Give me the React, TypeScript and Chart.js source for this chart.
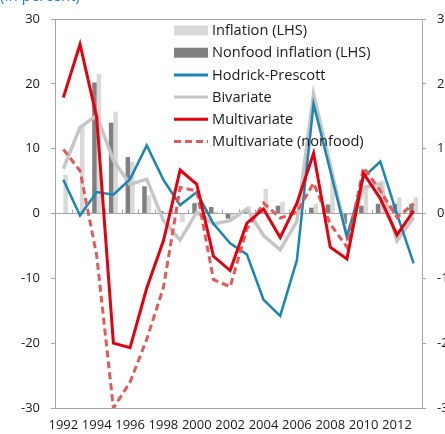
import React, { useEffect, useRef } from "react";
import { Chart, registerables } from "chart.js";
Chart.register(...registerables);

const years = [
  "1992", "1993", "1994", "1995", "1996", "1997", "1998", "1999", "2000", "2001", "2002",
  "2003", "2004", "2005", "2006", "2007", "2008", "2009", "2010", "2011", "2012", "2013",
];

const inflation = [6.0, 13.5, 21.5, 15.7, 8.0, 2.8, 0.2, -1.3, 0.5, 0.3, -1.0, 1.1, 3.8, 1.8, 1.4, 1.5, 5.6, -0.3, 4.3, 5.1, 2.5, 2.5];
const nonfoodInflation = [null, null, 20.2, 14.0, 8.7, 4.2, 0.4, 0.1, 1.6, 1.0, -0.8, 0.3, 0.2, 1.2, 0.3, 0.9, 1.4, -1.6, 1.2, 1.5, 1.5, 1.5];
const hodrickPrescott = [5.2, -0.3, 3.3, 2.9, 5.3, 10.5, 5.2, 1.3, 3.3, -1.6, -4.6, -6.3, -13.3, -15.8, -7.2, 16.9, 6.6, -3.6, 5.6, 8.0, -0.1, -7.7];
const bivariate = [6.9, 13.3, 15.1, 8.2, 4.5, 5.3, -1.1, -4.1, 0.2, -1.6, -1.1, 0.7, -3.4, -5.6, -1.2, 18.4, 7.5, -3.6, 4.0, 4.6, -4.2, -0.6];
const multivariate = [17.9, 26.1, 14.8, -20.0, -20.7, -11.5, -4.2, 6.7, 4.5, -6.6, -8.8, -1.5, 0.7, -3.7, 1.6, 9.3, -5.2, -7.0, 6.2, 2.3, -3.3, 0.4];
const multivariateNonfood = [9.9, 6.6, -6.5, -30.0, -26.0, -19.4, -11.4, 4.0, 3.5, -10.2, -11.3, -2.4, 1.6, -0.7, 0.2, 4.7, -1.6, -5.2, 7.1, 3.5, -0.6, 1.5];

const yTicks = [-30, -20, -10, 0, 10, 20, 30];
const subtitle = "(In percent)";

const FONT = "'Open Sans', 'Noto Sans', sans-serif";
const AXIS_GREY = "#a6a6a6";
const TEXT = "#1a1a1a";

const legendPlugin = {
  id: "insideLegend",
  afterDatasetsDraw(chart: any) {
    const ctx = chart.ctx;
    const x0 = 174;
    const y0 = 30.5;
    const dy = 22.2;
    const sw = 34;
    ctx.save();
    ctx.font = `14.6px ${FONT}`;
    ctx.textBaseline = "middle";
    ctx.textAlign = "left";
    chart.data.datasets.forEach((ds: any, i: number) => {
      const y = y0 + i * dy;
      if (ds.type === "bar") {
        ctx.fillStyle = ds.backgroundColor;
        ctx.fillRect(x0, y - 5, sw, 10);
      } else {
        ctx.strokeStyle = ds.borderColor;
        ctx.lineWidth = 3;
        ctx.setLineDash(ds.borderDash || []);
        ctx.beginPath();
        ctx.moveTo(x0, y);
        ctx.lineTo(x0 + sw, y);
        ctx.stroke();
        ctx.setLineDash([]);
      }
      ctx.fillStyle = TEXT;
      ctx.fillText(ds.label, x0 + sw + 4, y + 0.5);
    });
    ctx.restore();
  },
};

const framePlugin = {
  id: "frameAndZero",
  beforeDatasetsDraw(chart: any) {
    const { ctx, chartArea } = chart;
    const x = chart.scales.x;
    const y = chart.scales.y;
    const zero = y.getPixelForValue(0);
    ctx.save();
    ctx.strokeStyle = AXIS_GREY;
    ctx.lineWidth = 1;
    ctx.beginPath();
    ctx.moveTo(chartArea.left, chartArea.top + 0.5);
    ctx.lineTo(chartArea.right, chartArea.top + 0.5);
    const n = years.length;
    const w = (chartArea.right - chartArea.left) / n;
    for (let i = 1; i < n; i++) {
      const px = Math.round(x.getPixelForValue(i) - w / 2) + 0.5;
      ctx.moveTo(px, zero);
      ctx.lineTo(px, zero - 4);
    }
    ctx.stroke();
    ctx.restore();
  },
  afterDraw(chart: any) {
    const ctx = chart.ctx;
    ctx.save();
    ctx.font = `15px ${FONT}`;
    ctx.fillStyle = "#1a86b3";
    ctx.textBaseline = "alphabetic";
    ctx.textAlign = "left";
    ctx.fillText(subtitle, 0, 0.5);
    ctx.restore();
  },
};

export default function App() {
  const ref = useRef<HTMLCanvasElement>(null);

  useEffect(() => {
    const canvas = ref.current;
    if (!canvas) return;
    const chart = new Chart(canvas, {
      type: "bar",
      data: {
        labels: years,
        datasets: [
          {
            type: "bar",
            label: "Inflation (LHS)",
            data: inflation,
            backgroundColor: "#d9d9d9",
            borderWidth: 0,
            categoryPercentage: 0.54,
            barPercentage: 1.0,
            order: 10,
            yAxisID: "y",
          },
          {
            type: "bar",
            label: "Nonfood inflation (LHS)",
            data: nonfoodInflation,
            backgroundColor: "#808080",
            borderWidth: 0,
            categoryPercentage: 0.54,
            barPercentage: 1.0,
            order: 9,
            yAxisID: "y",
          },
          {
            type: "line",
            label: "Hodrick-Prescott",
            data: hodrickPrescott,
            borderColor: "#1a86b3",
            borderWidth: 2.5,
            pointRadius: 0,
            tension: 0,
            fill: false,
            order: 4,
            yAxisID: "y",
          },
          {
            type: "line",
            label: "Bivariate",
            data: bivariate,
            borderColor: "#c6c6c6",
            borderWidth: 3.5,
            pointRadius: 0,
            tension: 0,
            fill: false,
            order: 5,
            yAxisID: "y",
          },
          {
            type: "line",
            label: "Multivariate",
            data: multivariate,
            borderColor: "#e3000f",
            borderWidth: 3,
            pointRadius: 0,
            tension: 0,
            fill: false,
            order: 2,
            yAxisID: "y",
          },
          {
            type: "line",
            label: "Multivariate (nonfood)",
            data: multivariateNonfood,
            borderColor: "#e05a5a",
            borderWidth: 3,
            borderDash: [7, 4],
            pointRadius: 0,
            tension: 0,
            fill: false,
            order: 3,
            yAxisID: "y",
          },
        ] as any,
      },
      options: {
        responsive: false,
        animation: false,
        devicePixelRatio: 1,
        layout: { padding: { top: 19, left: 0, right: 0, bottom: 0 } },
        plugins: {
          legend: { display: false },
          tooltip: { enabled: false },
          title: { display: false },
        },
        scales: {
          x: {
            type: "category",
            offset: true,
            grid: { display: false, drawTicks: false },
            border: { display: true, color: AXIS_GREY, width: 1 },
            ticks: {
              autoSkip: false,
              maxRotation: 0,
              minRotation: 0,
              padding: 9,
              color: TEXT,
              font: { family: FONT, size: 13 },
              callback: (_v: any, i: number) => (i % 2 === 0 ? years[i] : ""),
            },
            afterFit: (s: any) => {
              s.height = 26;
            },
          },
          y: {
            position: "left",
            min: yTicks[0],
            max: yTicks[yTicks.length - 1],
            afterBuildTicks: (s: any) => {
              s.ticks = yTicks.map((v) => ({ value: v }));
            },
            grid: {
              color: (c: any) => (c.tick && c.tick.value === 0 ? AXIS_GREY : "rgba(0,0,0,0)"),
              drawTicks: true,
              tickLength: 4,
              tickColor: AXIS_GREY,
            },
            border: { display: true, color: AXIS_GREY, width: 1 },
            ticks: {
              padding: 11,
              color: TEXT,
              font: { family: FONT, size: 13 },
            },
            afterFit: (s: any) => {
              s.width = 55;
            },
          },
          y2: {
            position: "right",
            min: yTicks[0],
            max: yTicks[yTicks.length - 1],
            afterBuildTicks: (s: any) => {
              s.ticks = yTicks.map((v) => ({ value: v }));
            },
            grid: {
              drawOnChartArea: false,
              drawTicks: true,
              tickLength: 4,
              tickColor: AXIS_GREY,
            },
            border: { display: true, color: AXIS_GREY, width: 1 },
            ticks: {
              padding: 11,
              color: TEXT,
              font: { family: FONT, size: 13 },
            },
            afterFit: (s: any) => {
              s.width = 23;
            },
          },
        },
      } as any,
      plugins: [framePlugin, legendPlugin],
    });
    return () => chart.destroy();
  }, []);

  return (
    <div
      style={{
        position: "fixed",
        left: 0,
        top: 0,
        width: 445,
        height: 434,
        background: "#ffffff",
        overflow: "hidden",
      }}
    >
      <canvas ref={ref} width={445} height={434} style={{ width: 445, height: 434, display: "block" }} />
    </div>
  );
}
